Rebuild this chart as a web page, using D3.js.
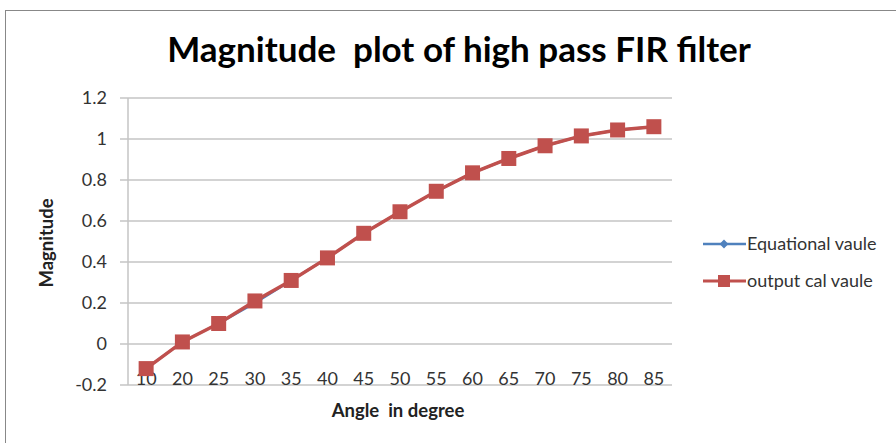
<!DOCTYPE html>
<html>
<head>
<meta charset="utf-8">
<script src="https://cdn.jsdelivr.net/npm/d3@7"></script>
<style>
	body { margin: 0; background: #fff; }
	text { font-family: "Lato", "Open Sans", sans-serif; }
</style>
</head>
<body>
<svg id="chart" width="896" height="443"></svg>
<script>
const angles = ["10", "20", "25", "30", "35", "40", "45", "50", "55", "60", "65", "70", "75", "80", "85"];
const equational = [-0.12, 0.01, 0.10, 0.20, 0.31, 0.42, 0.54, 0.645, 0.745, 0.835, 0.905, 0.967, 1.015, 1.044, 1.06];
const outputCal = [-0.12, 0.01, 0.10, 0.21, 0.31, 0.42, 0.54, 0.645, 0.745, 0.835, 0.905, 0.967, 1.015, 1.044, 1.06];
const yTicks = [-0.2, 0, 0.2, 0.4, 0.6, 0.8, 1, 1.2];
const seriesNames = ["Equational vaule", "output cal vaule"];

const svg = d3.select("#chart");

// chart frame
svg.append("rect")
	.attr("x", 5.5).attr("y", 10.5)
	.attr("width", 900).attr("height", 450)
	.attr("fill", "none")
	.attr("stroke", "#888")
	.attr("stroke-width", 1);

const PLOT_LEFT = 128,
	  PLOT_RIGHT = 672,
	  PLOT_TOP = 98,
	  PLOT_BOTTOM = 385;

let x = d3.scaleBand().domain(angles).range([PLOT_LEFT, PLOT_RIGHT]),
	y = d3.scaleLinear().domain([-0.2, 1.2]).range([PLOT_BOTTOM, PLOT_TOP]);

// gridlines + tick marks
svg.append("g").selectAll("line")
	.data(yTicks)
	.join("line")
	.attr("x1", PLOT_LEFT - 8)
	.attr("x2", PLOT_RIGHT)
	.attr("y1", d => y(d))
	.attr("y2", d => y(d))
	.attr("stroke", "#c4c4c4")
	.attr("stroke-width", 1.5);

// vertical axis line
svg.append("line")
	.attr("x1", PLOT_LEFT).attr("x2", PLOT_LEFT)
	.attr("y1", PLOT_TOP).attr("y2", PLOT_BOTTOM)
	.attr("stroke", "#c4c4c4")
	.attr("stroke-width", 1.5);

// y labels
svg.append("g").selectAll("text")
	.data(yTicks)
	.join("text")
	.attr("x", 107)
	.attr("y", d => y(d))
	.attr("dy", "0.35em")
	.attr("text-anchor", "end")
	.attr("font-size", 18)
	.attr("fill", "#333")
	.text(d => d);

// x labels
svg.append("g").selectAll("text")
	.data(angles)
	.join("text")
	.attr("x", d => x(d) + x.bandwidth() / 2)
	.attr("y", 385)
	.attr("text-anchor", "middle")
	.attr("font-size", 18)
	.attr("fill", "#333")
	.text(d => d);

// titles
svg.append("text")
	.attr("x", 459).attr("y", 62)
	.attr("text-anchor", "middle")
	.attr("font-size", 35)
	.attr("font-weight", "bold")
	.attr("fill", "#000")
	.style("white-space", "pre")
	.text("Magnitude  plot of high pass FIR filter");

svg.append("text")
	.attr("transform", "translate(53,243) rotate(-90)")
	.attr("text-anchor", "middle")
	.attr("font-size", 18.5)
	.attr("font-weight", "bold")
	.attr("fill", "#222")
	.text("Magnitude");

svg.append("text")
	.attr("x", 398).attr("y", 417)
	.attr("text-anchor", "middle")
	.attr("font-size", 18.5)
	.attr("font-weight", "bold")
	.attr("fill", "#222")
	.style("white-space", "pre")
	.text("Angle  in degree");

let line = d3.line()
	.x((d, i) => x(angles[i]) + x.bandwidth() / 2)
	.y(d => y(d));

// blue series (under)
svg.append("path")
	.attr("d", line(equational))
	.attr("fill", "none")
	.attr("stroke", "#4f81bd")
	.attr("stroke-width", 2.5);

svg.append("g").selectAll("path")
	.data(equational)
	.join("path")
	.attr("transform", (d, i) => "translate(" + (x(angles[i]) + x.bandwidth() / 2) + "," + y(d) + ")")
	.attr("d", d3.symbol(d3.symbolDiamond2, 60))
	.attr("fill", "#4f81bd");

// red series
svg.append("path")
	.attr("d", line(outputCal))
	.attr("fill", "none")
	.attr("stroke", "#c0504d")
	.attr("stroke-width", 3.5);

svg.append("g").selectAll("rect")
	.data(outputCal)
	.join("rect")
	.attr("x", (d, i) => x(angles[i]) + x.bandwidth() / 2 - 7.5)
	.attr("y", d => y(d) - 7.5)
	.attr("width", 15)
	.attr("height", 15)
	.attr("fill", "#c0504d");

// legend
let legend = svg.append("g");
let colors = ["#4f81bd", "#c0504d"];
seriesNames.forEach((name, i) => {
	let ly = 244 + i * 37;
	legend.append("line")
		.attr("x1", 703).attr("x2", 746)
		.attr("y1", ly).attr("y2", ly)
		.attr("stroke", colors[i])
		.attr("stroke-width", i == 0 ? 2.5 : 3);
	if (i == 0) {
		legend.append("path")
			.attr("transform", "translate(724," + ly + ")")
			.attr("d", d3.symbol(d3.symbolDiamond2, 50))
			.attr("fill", colors[i]);
	}
	else {
		legend.append("rect")
			.attr("x", 718).attr("y", ly - 6)
			.attr("width", 12).attr("height", 12)
			.attr("fill", colors[i]);
	}
	legend.append("text")
		.attr("x", 747).attr("y", ly)
		.attr("dy", "0.35em")
		.attr("font-size", 18)
		.attr("fill", "#333")
		.text(name);
});
</script>
</body>
</html>
